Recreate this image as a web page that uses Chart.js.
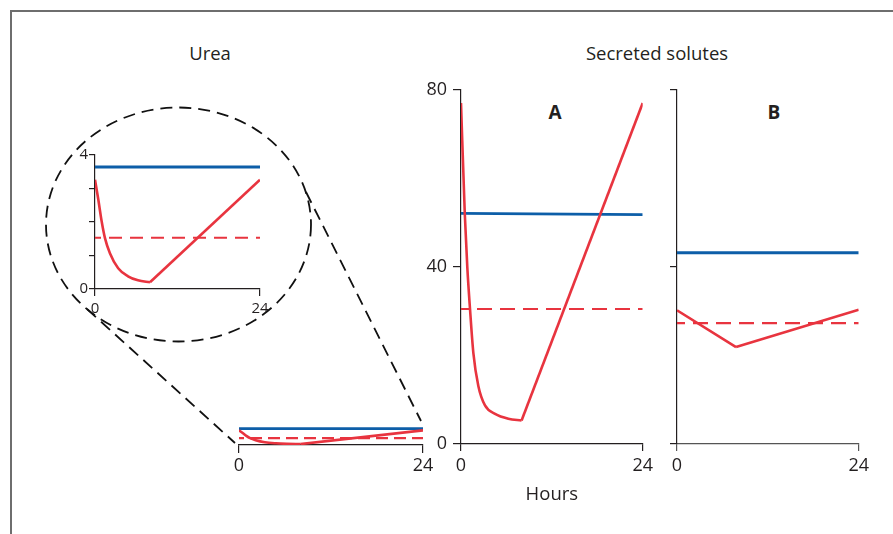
<!DOCTYPE html>
<html>
<head>
<meta charset="utf-8">
<title>Urea and secreted solutes</title>
<script src="https://cdn.jsdelivr.net/npm/chart.js@4"></script>
<style>
    html, body { margin: 0; padding: 0; background: #fff; overflow: hidden; }
    body { position: relative; width: 893px; height: 534px; font-family: 'Open Sans', sans-serif; color: #231f20; }
    .frame { position: absolute; left: 10px; top: 10px; width: 920px; height: 560px; border: 2px solid #6e6e6e; box-sizing: border-box; }
    canvas { position: absolute; }
    svg { position: absolute; left: 0; top: 0; }
    .label { position: absolute; font-size: 18.5px; line-height: 1; transform: translate(-50%, -50%); white-space: nowrap; }
    .panel { font-size: 19px; font-weight: bold; }
</style>
</head>
<body>
<div class="frame"></div>
<svg width="893" height="534">
    <g fill="none" stroke="#111" stroke-width="1.8" stroke-dasharray="12 7">
        <ellipse cx="178.5" cy="224.5" rx="132.5" ry="117"/>
        <line x1="87" y1="309" x2="235" y2="443"/>
        <line x1="306" y1="192" x2="421" y2="421"/>
    </g>
</svg>
<div class="label" style="left:210px; top:53px;">Urea</div>
<div class="label" style="left:657px; top:53px;">Secreted solutes</div>
<div class="label panel" style="left:555px; top:112px;">A</div>
<div class="label panel" style="left:774px; top:112px;">B</div>
<canvas id="ureaZoom"></canvas>
<canvas id="ureaMain"></canvas>
<canvas id="panelA"></canvas>
<canvas id="panelB"></canvas>
<script>
// Values (hours vs concentration)
const hoursA = [0, 0.5, 0.83, 1.19, 1.63, 2.29, 3.17, 4.5, 6.25, 8, 24];
const intermittentA = [77, 52, 40, 30.5, 20.6, 13.1, 8.7, 6.8, 5.7, 5.3, 77];
const hoursB = [0, 7.8, 24];
const intermittentB = [30.2, 21.9, 30.3];
const ureaHours = [0, 0.48, 0.96, 1.45, 2.17, 3.37, 4.8, 6.25, 8, 24];
const ureaIntermittent = [3.26, 2.67, 2.03, 1.52, 1.07, 0.62, 0.38, 0.26, 0.2, 3.26];

const flatHours = [0, 24];
const continuousA = [52.1, 51.8];
const averageA = [30.5, 30.5];
const continuousB = [43.2, 43.2];
const averageB = [27.3, 27.3];
const ureaContinuous = [3.64, 3.64];
const ureaAverage = [1.53, 1.53];

const hourTicks = [0, 24];
const soluteTicks = [0, 40, 80];
const ureaTicks = [0, 1, 2, 3, 4];
const ureaTickLabels = ['0', '', '', '', '4'];

const RED = '#e8343f';
const BLUE = '#0d5ea8';
const AXIS = '#231f20';

Chart.defaults.font.family = "'Open Sans', sans-serif";
Chart.defaults.color = AXIS;

function pts(xs, ys) {
    return xs.map((x, i) => ({ x: x, y: ys[i] }));
}

// smooth fall down to the minimum, straight line after it
function traces(hours, values, cont, avg, dash) {
    const k = values.indexOf(Math.min(...values));
    return [
        { data: pts(hours.slice(0, k + 1), values.slice(0, k + 1)), borderColor: RED, borderWidth: 2.6, cubicInterpolationMode: 'monotone' },
        { data: pts(hours.slice(k), values.slice(k)), borderColor: RED, borderWidth: 2.6 },
        { data: pts(flatHours, avg), borderColor: RED, borderWidth: 2.1, borderDash: dash, borderDashOffset: 7 },
        { data: pts(flatHours, cont), borderColor: BLUE, borderWidth: 2.9 }
    ];
}

function axis(extra) {
    return Object.assign({
        type: 'linear',
        grid: { drawOnChartArea: false, drawTicks: true, tickLength: 7, color: AXIS, lineWidth: 1.2 },
        border: { display: true, color: AXIS, width: 1.2 }
    }, extra);
}

function makePanel(id, area, box, datasets, xOpts, yOpts) {
    const left = area.left - box.wy - box.pl;
    const top = area.top - box.pt;
    const width = area.right - left + box.pr;
    const height = area.bottom - top + box.hx;
    const canvas = document.getElementById(id);
    canvas.width = width;
    canvas.height = height;
    Object.assign(canvas.style, { left: left + 'px', top: top + 'px', width: width + 'px', height: height + 'px' });

    xOpts.afterFit = s => { s.height = box.hx; };
    xOpts.afterBuildTicks = s => { s.ticks = hourTicks.map(v => ({ value: v })); };
    if (yOpts.display !== false) yOpts.afterFit = s => { s.width = box.wy; };

    return new Chart(canvas, {
        type: 'line',
        data: { datasets: datasets },
        options: {
            responsive: false,
            animation: false,
            devicePixelRatio: 1,
            events: [],
            layout: { padding: { left: box.pl, top: box.pt, right: box.pr, bottom: 0 } },
            plugins: { legend: { display: false }, tooltip: { enabled: false } },
            elements: { point: { radius: 0 }, line: { fill: false, tension: 0 } },
            scales: { x: axis(xOpts), y: axis(yOpts) }
        }
    });
}

// inset: urea on its own 0-4 scale
makePanel('ureaZoom', { left: 95, top: 155, right: 260, bottom: 289 }, { wy: 30, hx: 30, pl: 0, pt: 10, pr: 14 },
    traces(ureaHours, ureaIntermittent, ureaContinuous, ureaAverage, [13, 8]),
    { min: 0, max: 24, ticks: { font: { size: 15 }, padding: 4 } },
    {
        min: 0, max: 4,
        afterBuildTicks: s => { s.ticks = ureaTicks.map(v => ({ value: v })); },
        ticks: { font: { size: 15 }, padding: 1, callback: (v, i) => ureaTickLabels[i] },
        grid: { drawOnChartArea: false, tickLength: 6, color: AXIS, lineWidth: 1.2 }
    });

// urea on the same 0-80 scale as the solutes
makePanel('ureaMain', { left: 239, top: 85, right: 423, bottom: 445 }, { wy: 0, hx: 40, pl: 12, pt: 0, pr: 14 },
    traces(ureaHours, ureaIntermittent, ureaContinuous, ureaAverage, [12, 6]),
    { min: 0, max: 24, ticks: { font: { size: 18 }, padding: 2 },
      grid: { drawOnChartArea: false, tickLength: 8, color: AXIS, lineWidth: 1.2 } },
    { min: 0, max: 80, display: false });

makePanel('panelA', { left: 461, top: 85, right: 643, bottom: 444 }, { wy: 40, hx: 63, pl: 0, pt: 12, pr: 14 },
    traces(hoursA, intermittentA, continuousA, averageA, [15, 8]),
    { min: 0, max: 24, ticks: { font: { size: 18 }, padding: 4 },
      title: { display: true, text: 'Hours', font: { size: 18.5 }, padding: { top: 0, bottom: 1 } } },
    {
        min: 0, max: 80,
        afterBuildTicks: s => { s.ticks = soluteTicks.map(v => ({ value: v })); },
        ticks: { font: { size: 18 }, padding: 6 },
        grid: { drawOnChartArea: false, tickLength: 8, color: AXIS, lineWidth: 1.2 }
    });

makePanel('panelB', { left: 677, top: 85, right: 859, bottom: 444 }, { wy: 20, hx: 40, pl: 0, pt: 12, pr: 14 },
    traces(hoursB, intermittentB, continuousB, averageB, [15, 8]),
    { min: 0, max: 24, ticks: { font: { size: 18 }, padding: 4 }, border: { display: true, color: '#555', width: 1.2 },
      grid: { drawOnChartArea: false, tickLength: 7, color: '#555', lineWidth: 1.2 } },
    {
        min: 0, max: 80,
        afterBuildTicks: s => { s.ticks = soluteTicks.map(v => ({ value: v })); },
        ticks: { font: { size: 18 }, padding: 6, callback: () => '' },
        grid: { drawOnChartArea: false, tickLength: 7, color: AXIS, lineWidth: 1.2 }
    });
</script>
</body>
</html>
